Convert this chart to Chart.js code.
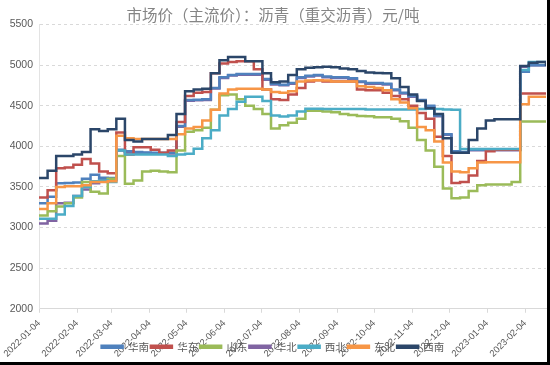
<!DOCTYPE html>
<html>
<head>
<meta charset="utf-8">
<script src="https://cdn.jsdelivr.net/npm/chart.js@4/dist/chart.umd.min.js"></script>
<style>
  html, body { margin: 0; padding: 0; background: #000; }
  #wrap { width: 547px; height: 362px; background: #fff; }
</style>
</head>
<body>
<div id="wrap"><canvas id="c" width="547" height="362"></canvas></div>
<script>
// weekly sample dates
var dates = [
  '2022-01-04','2022-01-11','2022-01-18','2022-01-25','2022-02-01','2022-02-08','2022-02-15','2022-02-22',
  '2022-03-01','2022-03-08','2022-03-15','2022-03-22','2022-03-29','2022-04-05','2022-04-12','2022-04-19',
  '2022-04-26','2022-05-03','2022-05-10','2022-05-17','2022-05-24','2022-05-31','2022-06-07','2022-06-14',
  '2022-06-21','2022-06-28','2022-07-05','2022-07-12','2022-07-19','2022-07-26','2022-08-02','2022-08-09',
  '2022-08-16','2022-08-23','2022-08-30','2022-09-06','2022-09-13','2022-09-20','2022-09-27','2022-10-04',
  '2022-10-11','2022-10-18','2022-10-25','2022-11-01','2022-11-08','2022-11-15','2022-11-22','2022-11-29',
  '2022-12-06','2022-12-13','2022-12-20','2022-12-27','2023-01-03','2023-01-10','2023-01-17','2023-01-24',
  '2023-01-31','2023-02-07','2023-02-14','2023-02-21'
];

var tickLabels = [
  '2022-01-04','2022-02-04','2022-03-04','2022-04-04','2022-05-04','2022-06-04','2022-07-04',
  '2022-08-04','2022-09-04','2022-10-04','2022-11-04','2022-12-04','2023-01-04','2023-02-04'
];

var regions = ['华南', '华东', '山东', '华北', '西北', '东北', '西南'];
var colors = ['#4F81BD', '#C0504D', '#9BBB59', '#8064A2', '#4BACC6', '#F79646', '#2B4669'];
// drawing order: higher = further back
var layerOrder = [5, 4, 3, 6, 2, 1, 0];

var huanan = [3300,3380,3545,3550,3555,3600,3650,3615,3610,3960,
              3940,3930,3925,3920,3920,3920,4250,4570,4575,4580,
              4720,4850,4880,4890,4890,4890,4830,4770,4760,4780,
              4850,4870,4880,4860,4850,4850,4840,4800,4780,4780,
              4770,4700,4660,4620,4570,4500,4380,4150,3940,3930,
              3960,3960,3960,3960,3960,3960,4920,5000,5000,5000];
var huadong = [3370,3460,3730,3740,3775,3845,3790,3690,3670,4170,
               3900,3990,3990,3960,3920,3950,4300,4620,4660,4670,
               4900,5020,5040,5050,5050,4950,4700,4580,4570,4640,
               4720,4800,4815,4800,4800,4800,4800,4700,4690,4690,
               4660,4620,4580,4500,4410,4340,4120,3880,3550,3560,
               3640,3820,3940,3960,3960,3960,4650,4650,4650,4650];
var shandong = [3150,3200,3260,3300,3370,3560,3440,3420,3600,3880,
                3540,3580,3690,3700,3690,3680,3950,4180,4200,4230,
                4450,4630,4640,4580,4500,4460,4400,4220,4260,4290,
                4340,4440,4440,4430,4420,4400,4385,4375,4370,4360,
                4360,4340,4310,4230,4080,3950,3750,3480,3360,3370,
                3450,3520,3530,3530,3530,3560,4306,4306,4306,4306];
var huabei = [3050,3085,3300,3305,3390,3470,3545,3590,3590,3950,
              3932,3922,3917,3912,3912,3912,4242,4562,4567,4572,
              4712,4842,4872,4882,4882,4882,4822,4762,4752,4772,
              4842,4862,4872,4852,4842,4842,4832,4792,4772,4772,
              4762,4692,4652,4612,4562,4492,4372,4142,3932,3922,
              3952,3952,3952,3952,3952,3952,4980,5000,5000,5000];
var xibei = [3110,3110,3160,3265,3390,3500,3570,3580,3560,3950,
             3900,3900,3900,3900,3900,3880,3900,3910,3970,4100,
             4200,4380,4460,4550,4610,4610,4560,4380,4367,4380,
             4430,4465,4465,4460,4460,4460,4460,4460,4455,4455,
             4455,4455,4455,4455,4460,4465,4460,4455,4450,3967,
             3967,3967,3967,3967,3967,3967,4940,5040,5040,5040];
var dongbei = [3230,3300,3500,3510,3510,3520,3560,3560,3570,4130,
               4100,4090,4090,4090,4090,4090,4150,4220,4240,4320,
               4450,4650,4700,4710,4710,4710,4700,4670,4660,4680,
               4800,4810,4815,4810,4800,4800,4800,4740,4730,4720,
               4690,4580,4540,4470,4240,4200,4060,3800,3690,3680,
               3730,3800,3805,3805,3805,3805,4520,4610,4610,4610];
var xinan = [3610,3700,3880,3880,3900,3930,4210,4190,4210,4340,
             4080,4060,4090,4090,4090,4140,4400,4680,4700,4710,
             4900,5060,5100,5100,5050,5050,4900,4790,4800,4880,
             4950,4970,4975,4980,4975,4960,4950,4930,4910,4905,
             4900,4840,4730,4640,4560,4470,4400,4100,3920,3920,
             4080,4220,4320,4335,4335,4335,4990,5030,5040,4990];

var series = [huanan, huadong, shandong, huabei, xibei, dongbei, xinan];

function dayOf(s) {
  return (Date.parse(s) - Date.parse(dates[0])) / 86400000;
}

var cjk = "'Noto Sans CJK SC', 'Noto Sans', sans-serif";
var latin = "'Liberation Sans', Arial, sans-serif";

var datasets = regions.map(function(name, i) {
  return {
    label: name,
    data: series[i].map(function(v, j) { return { x: dayOf(dates[j]), y: v }; }),
    borderColor: colors[i],
    backgroundColor: colors[i],
    borderWidth: 2.5,
    pointRadius: 0,
    stepped: true,
    order: layerOrder[i]
  };
});

new Chart(document.getElementById('c'), {
  type: 'line',
  data: { datasets: datasets },
  options: {
    responsive: false,
    animation: false,
    devicePixelRatio: 1,
    layout: { padding: { left: 0, right: 1, top: 0, bottom: 0 } },
    plugins: {
      title: {
        display: true,
        text: '市场价（主流价）：沥青（重交沥青）元/吨',
        color: '#858585',
        font: { family: cjk, size: 15.5, weight: 'normal' },
        padding: { top: 6, bottom: 0 }
      },
      legend: {
        position: 'bottom',
        labels: {
          boxWidth: 21,
          boxHeight: 2,
          padding: 2,
          color: '#595959',
          font: { family: cjk, size: 10.5 },
          sort: function(a, b) { return a.datasetIndex - b.datasetIndex; }
        }
      },
      tooltip: { enabled: false }
    },
    scales: {
      x: {
        type: 'linear',
        min: 0,
        max: dayOf(dates[dates.length - 1]),
        afterBuildTicks: function(scale) {
          scale.ticks = tickLabels.map(function(t) { return { value: dayOf(t) }; });
        },
        afterFit: function(scale) {
          // squeeze the axis so the legend sits over the rotated labels, and let them overflow
          scale.height = 30.75;
          scale._computeLabelArea = function() { return undefined; };
        },
        grid: { drawOnChartArea: false, drawTicks: true, tickLength: 4, color: '#d9d9d9' },
        border: { color: '#d9d9d9' },
        ticks: {
          autoSkip: false,
          minRotation: 45,
          maxRotation: 45,
          padding: 5,
          z: -1,
          color: '#595959',
          font: { family: latin, size: 9.3 },
          callback: function(v, i) { return tickLabels[i]; }
        }
      },
      y: {
        min: 2000,
        max: 5500,
        afterFit: function(scale) { scale.width = 39; },
        grid: {
          drawTicks: false,
          color: function(ctx) { return ctx.tick && ctx.tick.value === 2000 ? 'rgba(0,0,0,0)' : '#d9d9d9'; }
        },
        border: { color: '#e3e3e3', dash: [3, 3] },
        ticks: {
          stepSize: 500,
          padding: 6,
          color: '#595959',
          font: { family: latin, size: 10.5 },
          callback: function(v) { return String(v); }
        }
      }
    }
  }
});
</script>
</body>
</html>
